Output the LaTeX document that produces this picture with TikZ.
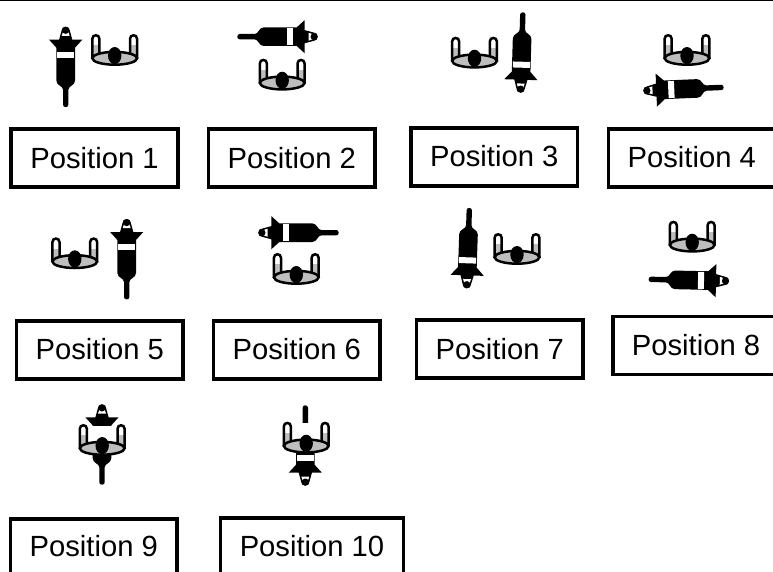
\documentclass[tikz,border=0pt]{standalone}
\usepackage{fontspec}
\setmainfont{Liberation Sans}
\definecolor{traygrey}{HTML}{BEBEBE}
\tikzset{
  posbox/.style={draw=black,line width=3.6pt,fill=white,inner sep=0pt,minimum width=166.5pt,minimum height=58pt,
    text height=20.8pt,font=\fontsize{29.2}{32}\selectfont},
  capdrop/.style={text depth=#1pt},
  capdrop/.default=0,
  syringe/.pic={
    \fill[black] (0,0) .. controls (-2.8,0) and (-4.2,1.8) .. (-4.2,4.2) -- (-6.6,13) -- (-16.6,13) -- (-9.3,21)
      -- (-9.3,54) .. controls (-9.3,59) and (-2.7,59) .. (-2.7,63) -- (-2.7,78)
      .. controls (-2.7,81.2) and (2.7,81.2) .. (2.7,78) -- (2.7,63)
      .. controls (2.7,59) and (9.3,59) .. (9.3,54) -- (9.3,21) -- (16.6,13) -- (6.6,13) -- (4.2,4.2)
      .. controls (4.2,1.8) and (2.8,0) .. (0,0) -- cycle;
    \fill[white] (-2.4,4.5) -- (2.4,4.5) -- (4,9.2) -- (-4,9.2) -- cycle;
    \fill[black] (0,3.6) circle [radius=3.6pt];
    \fill[white] (-8.5,25) rectangle (8.5,31);
  },
  tray/.pic={
    \foreach \s in {-1,1}{
      \fill[white] (\s*22.4,0) -- (\s*22.4,-19.5) .. controls (\s*22.4,-24.2) and (\s*15.3,-24.2) .. (\s*15.3,-19.5) -- (\s*15.3,0) -- cycle;
      \fill[traygrey] (\s*22.4,-13) rectangle (\s*15.3,0);
      \draw[black,line width=2.5pt] (\s*22.4,0) -- (\s*22.4,-19.5) .. controls (\s*22.4,-24.2) and (\s*15.3,-24.2) .. (\s*15.3,-19.5) -- (\s*15.3,-3);
    }
    \draw[black,fill=traygrey,line width=2.5pt] (0,0) ellipse [x radius=22.4pt,y radius=6.4pt];
    \fill[black] (0,-2.7) ellipse [x radius=6.7pt,y radius=8.6pt];
  }
}
\begin{document}
\begin{tikzpicture}[x=1pt,y=-1pt]
\useasboundingbox (0,0) rectangle (773,572);
\clip (0,0) rectangle (773,572);
\fill[white] (0,0) rectangle (773,572);
\draw[black,line width=1.5pt] (0,0.5) -- (773,0.5);
% syringes and trays
\pic (s1) at (65.7,26.7) {syringe};
\pic (t1) at (114.7,58.3) {tray};
\pic[rotate=-90] (s2) at (317.7,36.7) {syringe};
\pic (t2) at (282.2,83) {tray};
\pic[rotate=178.3] (s3) at (520.5,92.7) {syringe};
\pic (t3) at (474.5,61) {tray};
\pic[rotate=92.4] (s4) at (643.3,90.7) {syringe};
\pic (t4) at (687,58.3) {tray};
\pic (s5) at (126.7,219) {syringe};
\pic (t5) at (74.8,261.6) {tray};
\pic[rotate=90] (s6) at (258.3,232.7) {syringe};
\pic (t6) at (296.3,277.3) {tray};
\pic[rotate=178.1] (s7) at (466.7,288.3) {syringe};
\pic (t7) at (517,257.3) {tray};
\pic[rotate=-91.2] (s8) at (729,281) {syringe};
\pic (t8) at (692.2,245) {tray};
\pic (s9) at (102,404.3) {syringe};
\fill[white] (92,425.7) rectangle (112,448);
\pic (t9) at (102.2,448.3) {tray};
\pic[rotate=180] (s10) at (305.3,485.7) {syringe};
\fill[white] (295,423) rectangle (316,446);
\pic (t10) at (306.2,446) {tray};
% labels
\node[posbox,capdrop=0] (p1) at (94.5,157.75) {Position 1};
\node[posbox,capdrop=0] (p2) at (291.75,157.75) {Position 2};
\node[posbox,capdrop=2] (p3) at (494.25,156.75) {Position 3};
\node[posbox,capdrop=1.5] (p4) at (691.75,158) {Position 4};
\node[posbox,capdrop=2] (p5) at (99.75,350) {Position 5};
\node[posbox,capdrop=2] (p6) at (296.75,350) {Position 6};
\node[posbox,capdrop=0] (p7) at (499.75,348.75) {Position 7};
\node[posbox,capdrop=0.5] (p8) at (696,345.5) {Position 8};
\node[posbox,capdrop=3.4] (p9) at (93.75,548) {Position 9};
\node[posbox,capdrop=2,minimum width=183pt] (p10) at (312,546.75) {Position 10};
\end{tikzpicture}
\end{document}
